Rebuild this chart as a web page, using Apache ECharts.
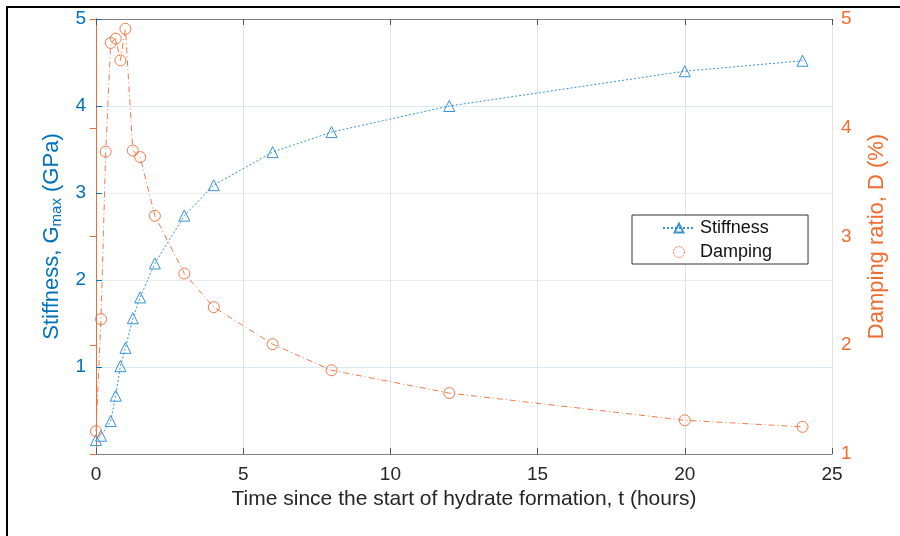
<!DOCTYPE html>
<html>
<head>
<meta charset="utf-8">
<script src="https://cdn.jsdelivr.net/npm/echarts@6/dist/echarts.min.js"></script>
<style>html,body{margin:0;padding:0;background:#fff}#c{width:900px;height:536px}</style>
</head>
<body>
<div id="c"></div>
<script>
const stiffTime = [0, 0.17, 0.5, 0.67, 0.83, 1, 1.25, 1.5, 2, 3, 4, 6, 8, 12, 20, 24];
const stiffness = [0.16, 0.21, 0.38, 0.67, 1.01, 1.22, 1.56, 1.8, 2.19, 2.74, 3.09, 3.47, 3.70, 4.0, 4.40, 4.52];
const dampTime = [0, 0.17, 0.33, 0.5, 0.67, 0.83, 1, 1.25, 1.5, 2, 3, 4, 6, 8, 12, 20, 24];
const damping = [1.21, 2.24, 3.78, 4.78, 4.82, 4.62, 4.91, 3.79, 3.73, 3.19, 2.66, 2.35, 2.01, 1.77, 1.56, 1.31, 1.25];
const xTicks = [0, 5, 10, 15, 20, 25];
const leftTicks = [1, 2, 3, 4, 5];
const rightTicks = [1, 2, 3, 4, 5];

const BLUE = '#0072BD', BLUE_L = '#3593D6';
const ORANGE = '#F26B30', ORANGE_L = '#F47A48';
const FONT = 'Liberation Sans, Arial, sans-serif';

const chart = echarts.init(document.getElementById('c'), null, {renderer: 'canvas'});
chart.setOption({
  animation: false,
  backgroundColor: '#fff',
  textStyle: {fontFamily: FONT},
  grid: {left: 96, right: 68, top: 19, bottom: 82, containLabel: false},
  legend: {
    orient: 'vertical', left: 632, top: 215,
    backgroundColor: '#fff', borderColor: '#333', borderWidth: 1,
    padding: [4, 36, 3, 30],
    itemGap: 6, itemWidth: 32, itemHeight: 11,
    textStyle: {fontSize: 18, color: '#111', fontFamily: FONT},
    data: [
      {name: 'Stiffness'},
      {name: 'Damping', icon: 'circle',
       itemStyle: {color: 'rgba(255,255,255,0)', borderColor: ORANGE_L, borderWidth: 1, borderType: [2, 1]}}
    ]
  },
  xAxis: [{
    type: 'value', min: 0, max: 25, interval: 5, position: 'bottom',
    axisLine: {show: true, lineStyle: {color: '#808080', width: 1}},
    axisTick: {show: true, inside: true, length: 6, lineStyle: {color: '#555'}},
    axisLabel: {fontSize: 19, color: '#262626', margin: 11, fontFamily: FONT},
    splitLine: {show: true, lineStyle: {color: '#e3e3e3', width: 1}},
    name: 'Time since the start of hydrate formation, t (hours)',
    nameLocation: 'middle', nameGap: 34,
    nameTextStyle: {fontSize: 21, color: '#262626', fontFamily: FONT}
  }, {
    type: 'value', min: 0, max: 25, interval: 5, position: 'top',
    axisLine: {show: true, lineStyle: {color: '#808080', width: 1}},
    axisTick: {show: true, inside: true, length: 6, lineStyle: {color: '#555'}},
    axisLabel: {show: false}, splitLine: {show: false}
  }],
  yAxis: [{
    type: 'value', min: 0, max: 5, interval: 1, position: 'left',
    axisLine: {show: true, lineStyle: {color: BLUE, width: 1}},
    axisTick: {show: true, inside: true, length: 6, lineStyle: {color: BLUE}},
    axisLabel: {fontSize: 19, color: BLUE, margin: 10, showMinLabel: false, fontFamily: FONT},
    splitLine: {show: true, lineStyle: {color: ['#ffffff', '#d9eaf7', '#ececec', '#ececec', '#d9eaf7', '#ffffff'], width: 1}},
    name: '{n|Stiffness, G}{s|max}{n| (GPa)}',
    nameLocation: 'middle', nameGap: 28, nameRotate: 90,
    nameTextStyle: {
      color: BLUE, fontFamily: FONT,
      rich: {
        n: {fontSize: 22, color: BLUE, fontFamily: FONT, lineHeight: 26},
        s: {fontSize: 15, color: BLUE, fontFamily: FONT, lineHeight: 26, padding: [10, 0, 0, 0]}
      }
    }
  }, {
    type: 'value', min: 1, max: 5, interval: 1, position: 'right',
    axisLine: {show: true, lineStyle: {color: ORANGE, width: 1}},
    axisTick: {show: true, inside: true, length: 6, lineStyle: {color: ORANGE}},
    axisLabel: {fontSize: 19, color: ORANGE, margin: 9, fontFamily: FONT},
    splitLine: {show: false},
    name: 'Damping ratio, D (%)',
    nameLocation: 'middle', nameGap: 34, nameRotate: 90,
    nameTextStyle: {fontSize: 22, color: ORANGE, fontFamily: FONT}
  }],
  series: [{
    name: 'Stiffness', type: 'line', xAxisIndex: 0, yAxisIndex: 0,
    data: stiffTime.map((t, i) => [t, stiffness[i]]),
    symbol: 'triangle', symbolSize: 11, showAllSymbol: true,
    lineStyle: {color: BLUE_L, width: 1, type: [2, 2]},
    itemStyle: {color: 'rgba(255,255,255,0)', borderColor: BLUE_L, borderWidth: 1},
    z: 3
  }, {
    name: 'Damping', type: 'line', xAxisIndex: 0, yAxisIndex: 1,
    data: dampTime.map((t, i) => [t, damping[i]]),
    symbol: 'circle', symbolSize: 11, showAllSymbol: true,
    lineStyle: {color: ORANGE_L, width: 1, type: [6, 3, 1, 3]},
    itemStyle: {color: 'rgba(255,255,255,0)', borderColor: ORANGE_L, borderWidth: 1},
    z: 3
  }],
  graphic: [{
    type: 'rect', shape: {x: 7, y: 7, width: 910, height: 560},
    style: {fill: 'none', stroke: '#000', lineWidth: 2}, silent: true
  }]
});
</script>
</body>
</html>
